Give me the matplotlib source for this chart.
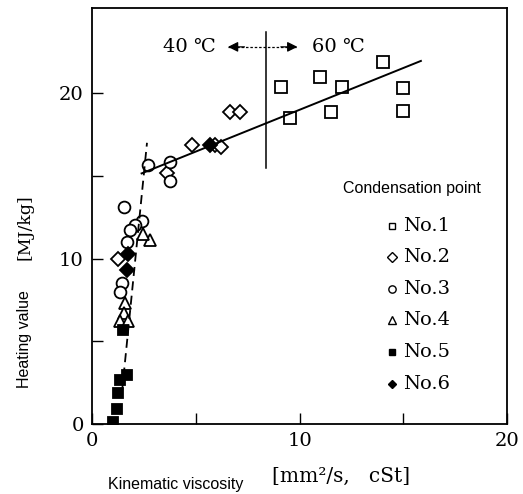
import matplotlib
matplotlib.use("Agg")
import matplotlib.pyplot as plt

# data
x_no1 = [9.1, 9.55, 11.0, 11.5, 12.05, 14.0, 15.0, 15.0]
y_no1 = [20.4, 18.5, 21.0, 18.85, 20.4, 21.9, 20.3, 18.9]
x_no2 = [6.65, 7.15, 4.8, 5.95, 6.2, 3.6, 1.27]
y_no2 = [18.85, 18.85, 16.85, 16.85, 16.75, 15.2, 9.95]
x_no3 = [2.7, 3.75, 3.78, 1.55, 2.39, 2.07, 1.83, 1.67, 1.43, 1.35]
y_no3 = [15.65, 15.85, 14.7, 13.1, 12.3, 12.05, 11.75, 11.0, 8.5, 8.0]
x_no4 = [2.79, 2.47, 1.59, 1.55, 1.35, 1.75]
y_no4 = [11.1, 11.5, 7.3, 6.7, 6.2, 6.2]
x_no5 = [1.5, 1.67, 1.35, 1.27, 1.19, 1.03]
y_no5 = [5.7, 2.96, 2.66, 1.86, 0.9, 0.14]
x_no6 = [1.75, 1.67, 5.7]
y_no6 = [10.3, 9.3, 16.85]

fit_60_x = [2.39, 15.85]
fit_60_y = [15.15, 21.95]
fit_40_x = [1.45, 2.65]
fit_40_y = [2.0, 17.0]

boundary_x = 8.37
boundary_y = [15.5, 23.7]
arrow_y = 22.8
arrow_x = [6.55, 9.9]

labels = ["No.1", "No.2", "No.3", "No.4", "No.5", "No.6"]
x_ticks = [0, 5, 10, 15, 20]
x_ticklabels = ["0", "", "10", "", "20"]
y_ticks = [0, 5, 10, 15, 20]
y_ticklabels = ["0", "", "10", "", "20"]

SERIF = ["DejaVu Serif", "DejaVu Sans"]
SANS = ["Liberation Sans", "DejaVu Sans"]

W, H = 523, 494
fig = plt.figure(figsize=(W / 100, H / 100), dpi=100)
ax = fig.add_axes([92 / W, 1 - 424 / H, (507 - 92) / W, (424 - 8) / H])

styles = [
    dict(marker="s", mfc="white", mec="black", ms=8),
    dict(marker="D", mfc="white", mec="black", ms=7.5),
    dict(marker="o", mfc="white", mec="black", ms=8.5),
    dict(marker="^", mfc="white", mec="black", ms=9),
    dict(marker="s", mfc="black", mec="black", ms=6.5),
    dict(marker="D", mfc="black", mec="black", ms=7),
]
series = [(x_no1, y_no1), (x_no2, y_no2), (x_no3, y_no3),
          (x_no4, y_no4), (x_no5, y_no5), (x_no6, y_no6)]

for (xs, ys), st in zip(series, styles):
    ax.plot(xs, ys, ls="none", mew=1.3, zorder=3, **st)

ax.plot(fit_60_x, fit_60_y, color="black", lw=1.4, zorder=4)
ax.plot(fit_40_x, fit_40_y, color="black", lw=1.3, ls=(0, (5, 3)), zorder=4)

# 40/60 degC boundary
ax.plot([boundary_x, boundary_x], boundary_y, color="black", lw=1.1)
ax.plot(arrow_x, [arrow_y, arrow_y], color="black", lw=0.9, ls=(0, (2, 1.5)))
for tip, tail in [(arrow_x[0], arrow_x[0] + 0.8), (arrow_x[1], arrow_x[1] - 0.8)]:
    ax.annotate("", xy=(tip, arrow_y), xytext=(tail, arrow_y),
                arrowprops=dict(arrowstyle="-|>", color="black", lw=0.9,
                                mutation_scale=15, shrinkA=0, shrinkB=0))
ax.text(4.7, arrow_y, "40 ℃", family=SERIF, fontsize=14, ha="center", va="center")
ax.text(11.9, arrow_y, "60 ℃", family=SERIF, fontsize=14, ha="center", va="center")

ax.set_xlim(0, 20)
ax.set_ylim(0, 25.15)
ax.set_xticks(x_ticks)
ax.set_xticklabels(x_ticklabels, family=SERIF, fontsize=14)
ax.set_yticks(y_ticks)
ax.set_yticklabels(y_ticklabels, family=SERIF, fontsize=14)
ax.tick_params(direction="in", length=8, width=1, pad=6)
for sp in ax.spines.values():
    sp.set_linewidth(1.3)

# legend drawn by hand
fig.text(412 / W, 1 - 189 / H, "Condensation point", family=SANS, fontsize=11.5,
         ha="center", va="center")
row_y = [226, 257, 289, 320, 352, 384]
for lab, st, py in zip(labels, styles, row_y):
    small = dict(st)
    small["ms"] = st["ms"] * 0.62
    fig.add_artist(plt.Line2D([392 / W], [1 - py / H], ls="none", mew=1.0,
                              transform=fig.transFigure, **small))
    fig.text(403 / W, 1 - py / H, lab, family=SERIF, fontsize=14,
             ha="left", va="center")

# axis labels
fig.text(25 / W, 1 - 339 / H, "Heating value", family=SANS, fontsize=11.5,
         rotation=90, ha="center", va="center")
fig.text(25 / W, 1 - 227 / H, "[MJ/kg]", family=SERIF, fontsize=12.5,
         rotation=90, ha="center", va="center")
fig.text(176 / W, 1 - 484 / H, "Kinematic viscosity", family=SANS, fontsize=11.5,
         ha="center", va="center")
fig.text(341 / W, 1 - 476 / H, "[mm²/s,   cSt]", family=SERIF, fontsize=14.5,
         ha="center", va="center")

fig.savefig("out.png", dpi=100)
